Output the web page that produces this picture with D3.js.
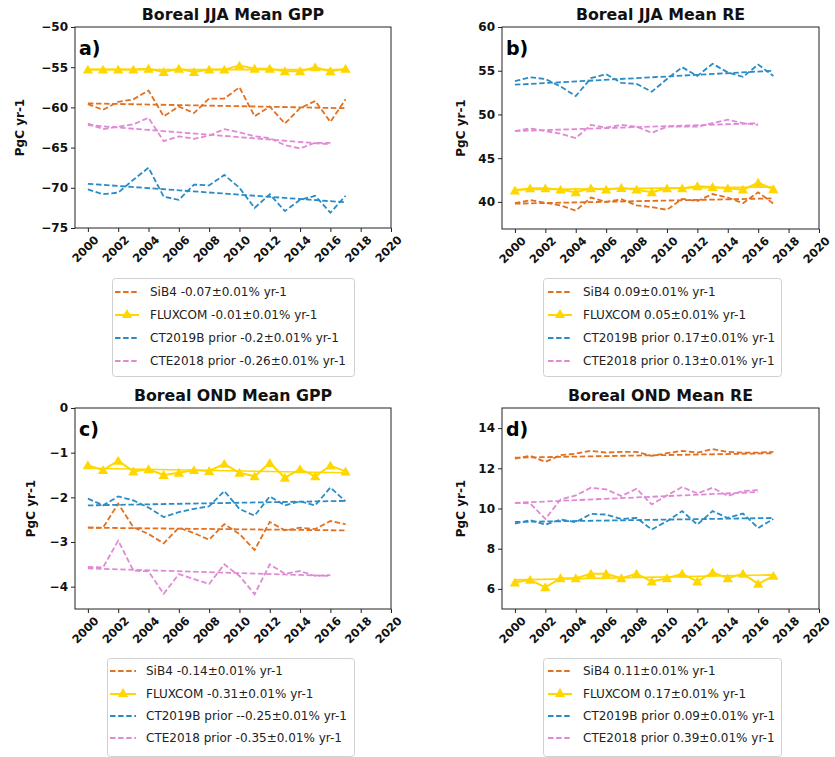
<!DOCTYPE html>
<html>
<head>
<meta charset="utf-8">
<script src="https://cdn.jsdelivr.net/npm/d3@7"></script>
<style>
  body { margin: 0; background: #fff; }
  svg text { font-family: "DejaVu Sans", sans-serif; }
</style>
</head>
<body>
<svg id="fig" width="835" height="757"></svg>
<script>
// Years of the annual time series (CTE2018 stops in 2016)
const years    = [2000,2001,2002,2003,2004,2005,2006,2007,2008,2009,2010,2011,2012,2013,2014,2015,2016,2017];
const cteYears = [2000,2001,2002,2003,2004,2005,2006,2007,2008,2009,2010,2011,2012,2013,2014,2015,2016];
const xTicks   = [2000,2002,2004,2006,2008,2010,2012,2014,2016,2018,2020];

const models = ["SiB4", "FLUXCOM", "CT2019B prior", "CTE2018 prior"];

// a) Boreal JJA mean GPP (PgC yr-1)
const gppJJA_sib4  = [-59.6,-60.3,-59.3,-59.0,-57.9,-61.1,-59.9,-60.7,-58.9,-58.9,-57.5,-61.1,-59.9,-62.0,-60.1,-59.2,-61.8,-59.0];
const gppJJA_flux  = [-55.3,-55.3,-55.3,-55.3,-55.2,-55.6,-55.2,-55.6,-55.3,-55.3,-54.8,-55.2,-55.2,-55.5,-55.5,-55.0,-55.5,-55.2];
const gppJJA_ct    = [-70.2,-70.8,-70.6,-69.0,-67.5,-71.1,-71.5,-69.6,-69.7,-68.4,-70.0,-72.5,-70.8,-72.9,-71.5,-71.0,-73.1,-71.0];
const gppJJA_cte   = [-62.0,-62.7,-62.4,-62.1,-61.3,-64.2,-63.6,-63.9,-63.5,-62.7,-63.1,-63.6,-63.8,-64.7,-65.1,-64.4,-64.4];
const gppJJA_trend = [[-59.5,-60.1],[-55.3,-55.3],[-69.5,-71.8],[-62.2,-64.6]];
const gppJJA_rates = ["-0.07", "-0.01", "-0.2", "-0.26"];

// b) Boreal JJA mean RE
const reJJA_sib4  = [39.85,40.2,39.9,39.6,39.0,40.5,40.0,40.3,39.6,39.4,39.1,40.35,40.1,40.9,40.5,39.85,41.1,39.8];
const reJJA_flux  = [41.3,41.55,41.55,41.4,41.1,41.55,41.4,41.6,41.4,41.1,41.55,41.55,41.8,41.7,41.55,41.4,42.2,41.45];
const reJJA_ct    = [53.8,54.25,54.05,53.2,52.1,54.15,54.6,53.6,53.5,52.6,54.05,55.4,54.4,55.8,54.8,54.3,55.7,54.4];
const reJJA_cte   = [48.1,48.4,48.1,47.8,47.3,48.8,48.5,48.8,48.6,47.9,48.6,48.6,48.6,49.0,49.4,49.0,48.8];
const reJJA_trend = [[39.8,40.4],[41.4,41.7],[53.4,55.0],[48.1,49.0]];
const reJJA_rates = ["0.09", "0.05", "0.17", "0.13"];

// c) Boreal OND mean GPP
const gppOND_sib4  = [-2.68,-2.68,-2.14,-2.67,-2.82,-3.03,-2.68,-2.80,-2.95,-2.60,-2.82,-3.18,-2.55,-2.74,-2.68,-2.71,-2.53,-2.60];
const gppOND_flux  = [-1.28,-1.39,-1.18,-1.42,-1.37,-1.50,-1.45,-1.39,-1.41,-1.25,-1.45,-1.53,-1.23,-1.56,-1.37,-1.53,-1.29,-1.42];
const gppOND_ct    = [-2.03,-2.18,-1.98,-2.07,-2.23,-2.44,-2.33,-2.26,-2.20,-1.86,-2.26,-2.41,-1.98,-2.18,-2.09,-2.18,-1.78,-2.09];
const gppOND_cte   = [-3.56,-3.57,-2.97,-3.64,-3.66,-4.16,-3.72,-3.83,-3.94,-3.50,-3.76,-4.17,-3.50,-3.71,-3.65,-3.76,-3.74];
const gppOND_trend = [[-2.68,-2.74],[-1.35,-1.45],[-2.18,-2.08],[-3.59,-3.76]];
const gppOND_rates = ["-0.14", "-0.31", "--0.25", "-0.35"];

// d) Boreal OND mean RE
const reOND_sib4  = [12.48,12.62,12.32,12.65,12.73,12.87,12.78,12.82,12.82,12.62,12.75,12.87,12.78,12.95,12.82,12.78,12.78,12.82];
const reOND_flux  = [6.32,6.45,6.08,6.53,6.53,6.75,6.75,6.53,6.75,6.37,6.53,6.75,6.37,6.82,6.53,6.75,6.25,6.65];
const reOND_ct    = [9.25,9.42,9.20,9.45,9.32,9.73,9.70,9.48,9.53,8.95,9.37,9.87,9.20,9.87,9.53,9.75,9.03,9.48];
const reOND_cte   = [10.28,10.25,9.48,10.45,10.65,11.03,10.95,10.62,10.98,10.20,10.65,11.07,10.75,11.03,10.62,10.87,10.92];
const reOND_trend = [[12.53,12.75],[6.45,6.70],[9.33,9.53],[10.28,10.82]];
const reOND_rates = ["0.11", "0.17", "0.09", "0.39"];

const colors = { "SiB4": "#e2701f", "FLUXCOM": "#ffd700", "CT2019B prior": "#2a8cc6", "CTE2018 prior": "#e08ad6" };

const panels = [
  { tag: "a)", title: "Boreal JJA Mean GPP", box: [75, 391, 27, 228], yDom: [-75, -50], yTicks: [-75,-70,-65,-60,-55,-50], ylabX: 20,
    series: [gppJJA_sib4, gppJJA_flux, gppJJA_ct, gppJJA_cte], trend: gppJJA_trend, rates: gppJJA_rates,
    legend: { box: [112, 278, 242, 98], lineX: [115, 139], textX: 150, rows: [292, 315, 338, 361] } },
  { tag: "b)", title: "Boreal JJA Mean RE", box: [502, 819, 27, 229], yDom: [36.9, 60], yTicks: [40,45,50,55,60], ylabX: 461,
    series: [reJJA_sib4, reJJA_flux, reJJA_ct, reJJA_cte], trend: reJJA_trend, rates: reJJA_rates,
    legend: { box: [543, 278, 238, 98], lineX: [548, 572], textX: 583, rows: [292, 315, 338, 361] } },
  { tag: "c)", title: "Boreal OND Mean GPP", box: [75, 391, 408, 609], yDom: [-4.5, 0], yTicks: [-4,-3,-2,-1,0], ylabX: 31,
    series: [gppOND_sib4, gppOND_flux, gppOND_ct, gppOND_cte], trend: gppOND_trend, rates: gppOND_rates,
    legend: { box: [107, 658, 247, 98], lineX: [110, 136], textX: 146, rows: [671, 694, 716, 738] } },
  { tag: "d)", title: "Boreal OND Mean RE", box: [502, 819, 408, 609], yDom: [5, 15], yTicks: [6,8,10,12,14], ylabX: 461,
    series: [reOND_sib4, reOND_flux, reOND_ct, reOND_cte], trend: reOND_trend, rates: reOND_rates,
    legend: { box: [543, 658, 238, 98], lineX: [548, 572], textX: 583, rows: [671, 694, 716, 738] } }
];

const svg = d3.select("#fig");
const fmt = v => String(v).replace("-", "\u2212");
const dash = "5.5,2.6";

panels.forEach(p => {
  const [x0, x1, y0, y1] = p.box;
  const x = d3.scaleLinear().domain([1999.15, 2020]).range([x0, x1]);
  const y = d3.scaleLinear().domain(p.yDom).range([y1, y0]);
  const g = svg.append("g");

  const clip = "clip-" + p.tag[0];
  svg.append("clipPath").attr("id", clip).append("rect")
    .attr("x", x0).attr("y", y0).attr("width", x1 - x0).attr("height", y1 - y0);
  const plot = g.append("g").attr("clip-path", `url(#${clip})`);

  models.forEach((m, i) => {
    const yrs = m === "CTE2018 prior" ? cteYears : years;
    const vals = p.series[i];
    const col = colors[m];
    const line = d3.line().x((d, k) => x(yrs[k])).y(d => y(d));
    const isFlux = m === "FLUXCOM";
    // annual values
    plot.append("path").datum(vals).attr("d", line)
      .attr("fill", "none").attr("stroke", col)
      .attr("stroke-width", isFlux ? 2 : 1.8)
      .attr("stroke-dasharray", isFlux ? null : dash);
    // linear trend
    const tYrs = [yrs[0], yrs[yrs.length - 1]];
    plot.append("path").datum(p.trend[i])
      .attr("d", d3.line().x((d, k) => x(tYrs[k])).y(d => y(d)))
      .attr("fill", "none").attr("stroke", col)
      .attr("stroke-width", isFlux ? 1.6 : 1.8)
      .attr("stroke-dasharray", isFlux ? null : dash);
    if (isFlux) {
      plot.selectAll(null).data(vals).enter().append("path")
        .attr("d", d3.symbol(d3.symbolTriangle, 46))
        .attr("transform", (d, k) => `translate(${x(yrs[k])},${y(d) + 1})`)
        .attr("fill", col);
    }
  });

  // frame
  g.append("rect").attr("x", x0).attr("y", y0).attr("width", x1 - x0).attr("height", y1 - y0)
    .attr("fill", "none").attr("stroke", "#222").attr("stroke-width", 1);

  // y axis
  const ya = g.append("g").attr("transform", `translate(${x0},0)`)
    .call(d3.axisLeft(y).tickValues(p.yTicks).tickFormat(fmt).tickSize(4).tickPadding(3));
  ya.select(".domain").remove();
  ya.selectAll("line").attr("stroke", "#222");
  ya.selectAll("text").attr("font-size", 12).attr("font-weight", "bold").attr("fill", "#111");

  // x axis with rotated labels
  const xa = g.append("g").attr("transform", `translate(0,${y1})`)
    .call(d3.axisBottom(x).tickValues(xTicks).tickFormat(d3.format("d")).tickSize(4));
  xa.select(".domain").remove();
  xa.selectAll("line").attr("stroke", "#222");
  xa.selectAll("text")
    .attr("font-size", 11.5).attr("font-weight", "bold").attr("fill", "#111")
    .attr("text-anchor", "middle").attr("dy", null).attr("y", null)
    .attr("dominant-baseline", "central")
    .attr("transform", "translate(-3,21) rotate(-45)");

  // title, panel tag, y label
  g.append("text").attr("x", (x0 + x1) / 2).attr("y", y0 - 7).attr("text-anchor", "middle")
    .attr("font-size", 15.8).attr("font-weight", "bold").attr("fill", "#111").text(p.title);
  g.append("text").attr("x", x0 + 4).attr("y", y0 + 28)
    .attr("font-size", 19).attr("font-weight", "bold").attr("fill", "#000").text(p.tag);
  g.append("text").attr("transform", `translate(${p.ylabX},${(y0 + y1) / 2}) rotate(-90)`)
    .attr("text-anchor", "middle").attr("dominant-baseline", "central")
    .attr("font-size", 12).attr("font-weight", "bold").attr("fill", "#111").text("PgC yr-1");

  // legend
  const L = p.legend;
  const lg = g.append("g");
  lg.append("rect").attr("x", L.box[0] + 0.5).attr("y", L.box[1] + 0.5)
    .attr("width", L.box[2]).attr("height", L.box[3]).attr("rx", 3)
    .attr("fill", "#fff").attr("stroke", "#d0d0d0");
  models.forEach((m, i) => {
    const yy = L.rows[i];
    const isFlux = m === "FLUXCOM";
    lg.append("line").attr("x1", L.lineX[0]).attr("x2", L.lineX[1]).attr("y1", yy).attr("y2", yy)
      .attr("stroke", colors[m]).attr("stroke-width", isFlux ? 2 : 1.8)
      .attr("stroke-dasharray", isFlux ? null : dash);
    if (isFlux) {
      lg.append("path").attr("d", d3.symbol(d3.symbolTriangle, 46))
        .attr("transform", `translate(${(L.lineX[0] + L.lineX[1]) / 2},${yy})`).attr("fill", colors[m]);
    }
    lg.append("text").attr("x", L.textX).attr("y", yy).attr("dominant-baseline", "central")
      .attr("font-size", 12).attr("fill", "#222")
      .text(`${m} ${p.rates[i]}\u00b10.01% yr-1`);
  });
});
</script>
</body>
</html>
